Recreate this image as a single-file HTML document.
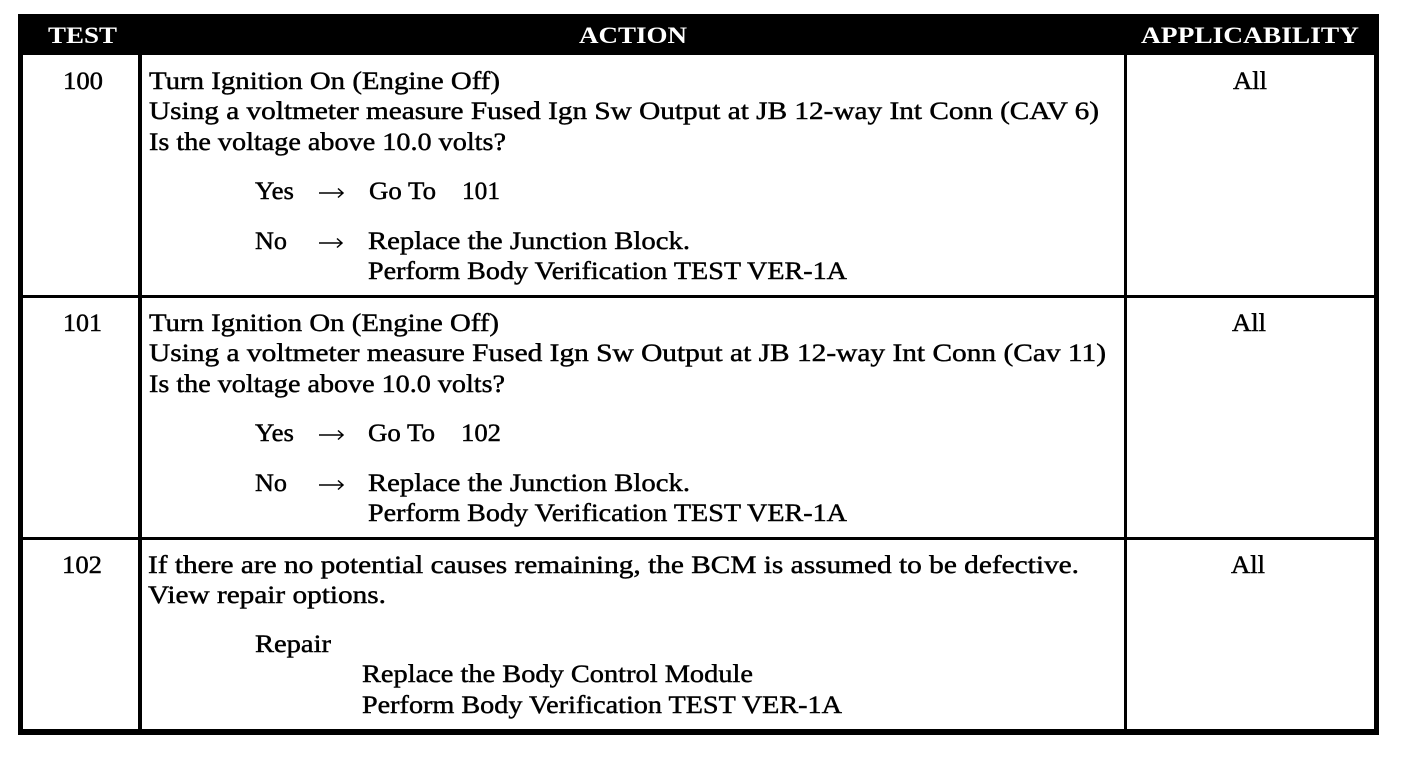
<!DOCTYPE html>
<html><head><meta charset="utf-8">
<style>
html,body{margin:0;padding:0;background:#fff;width:1408px;height:762px;overflow:hidden}
svg{display:block}
text{font-family:"Liberation Serif",serif;font-size:25px;fill:#000;stroke:#000;stroke-width:.45;font-weight:400}
.h{fill:#fff;stroke:#fff;font-size:23px;font-weight:700;stroke-width:0}
.a{fill:none;stroke:#000;stroke-width:1.5}
</style></head><body>
<svg width="1408" height="762" viewBox="0 0 1408 762" xmlns="http://www.w3.org/2000/svg">
<rect x="18" y="14" width="1361" height="41" fill="#000"/>
<rect x="18" y="14" width="5" height="721" fill="#000"/>
<rect x="1374" y="14" width="5" height="721" fill="#000"/>
<rect x="18" y="729" width="1361" height="6" fill="#000"/>
<rect x="138" y="55" width="4" height="675" fill="#000"/>
<rect x="1124" y="55" width="3" height="675" fill="#000"/>
<rect x="23" y="295" width="1351" height="3" fill="#000"/>
<rect x="23" y="537" width="1351" height="3" fill="#000"/>

<text class="h" x="48" y="43" textLength="69" lengthAdjust="spacingAndGlyphs">TEST</text>
<text class="h" x="579" y="43" textLength="108" lengthAdjust="spacingAndGlyphs">ACTION</text>
<text class="h" x="1141" y="43" textLength="218" lengthAdjust="spacingAndGlyphs">APPLICABILITY</text>

<text x="63" y="89" textLength="40" lengthAdjust="spacingAndGlyphs">100</text>
<text x="149" y="89" textLength="351" lengthAdjust="spacingAndGlyphs">Turn Ignition On (Engine Off)</text>
<text x="149" y="119" textLength="950" lengthAdjust="spacingAndGlyphs">Using a voltmeter measure Fused Ign Sw Output at JB 12-way Int Conn (CAV 6)</text>
<text x="149" y="150" textLength="357" lengthAdjust="spacingAndGlyphs">Is the voltage above 10.0 volts?</text>
<text x="255" y="199" textLength="39" lengthAdjust="spacingAndGlyphs">Yes</text>
<path class="a" d="M319 193H343M338 188.5L343 193L338 197.500"/>
<text x="369" y="199" textLength="67" lengthAdjust="spacingAndGlyphs">Go To</text>
<text x="462" y="199" textLength="38" lengthAdjust="spacingAndGlyphs">101</text>
<text x="255" y="249" textLength="32" lengthAdjust="spacingAndGlyphs">No</text>
<path class="a" d="M319 243H342M337 238.500L342 243L337 247.500"/>
<text x="368" y="249" textLength="322" lengthAdjust="spacingAndGlyphs">Replace the Junction Block.</text>
<text x="368" y="279" textLength="479" lengthAdjust="spacingAndGlyphs">Perform Body Verification TEST VER-1A</text>
<text x="1233" y="89" textLength="34" lengthAdjust="spacingAndGlyphs">All</text>

<text x="63" y="331" textLength="39" lengthAdjust="spacingAndGlyphs">101</text>
<text x="149" y="331" textLength="350" lengthAdjust="spacingAndGlyphs">Turn Ignition On (Engine Off)</text>
<text x="149" y="361" textLength="957" lengthAdjust="spacingAndGlyphs">Using a voltmeter measure Fused Ign Sw Output at JB 12-way Int Conn (Cav 11)</text>
<text x="149" y="392" textLength="356" lengthAdjust="spacingAndGlyphs">Is the voltage above 10.0 volts?</text>
<text x="255" y="441" textLength="39" lengthAdjust="spacingAndGlyphs">Yes</text>
<path class="a" d="M319 435H343M338 430.500L343 435L338 439.500"/>
<text x="368" y="441" textLength="67" lengthAdjust="spacingAndGlyphs">Go To</text>
<text x="461" y="441" textLength="40" lengthAdjust="spacingAndGlyphs">102</text>
<text x="255" y="491" textLength="32" lengthAdjust="spacingAndGlyphs">No</text>
<path class="a" d="M319 485H343M338 480.500L343 485L338 489.500"/>
<text x="368" y="491" textLength="322" lengthAdjust="spacingAndGlyphs">Replace the Junction Block.</text>
<text x="368" y="521" textLength="479" lengthAdjust="spacingAndGlyphs">Perform Body Verification TEST VER-1A</text>
<text x="1232" y="331" textLength="34" lengthAdjust="spacingAndGlyphs">All</text>

<text x="62" y="573" textLength="40" lengthAdjust="spacingAndGlyphs">102</text>
<text x="148" y="573" textLength="931" lengthAdjust="spacingAndGlyphs">If there are no potential causes remaining, the BCM is assumed to be defective.</text>
<text x="148" y="603" textLength="238" lengthAdjust="spacingAndGlyphs">View repair options.</text>
<text x="255" y="652" textLength="76" lengthAdjust="spacingAndGlyphs">Repair</text>
<text x="362" y="682" textLength="391" lengthAdjust="spacingAndGlyphs">Replace the Body Control Module</text>
<text x="362" y="713" textLength="480" lengthAdjust="spacingAndGlyphs">Perform Body Verification TEST VER-1A</text>
<text x="1231" y="573" textLength="34" lengthAdjust="spacingAndGlyphs">All</text>
</svg>
</body></html>
